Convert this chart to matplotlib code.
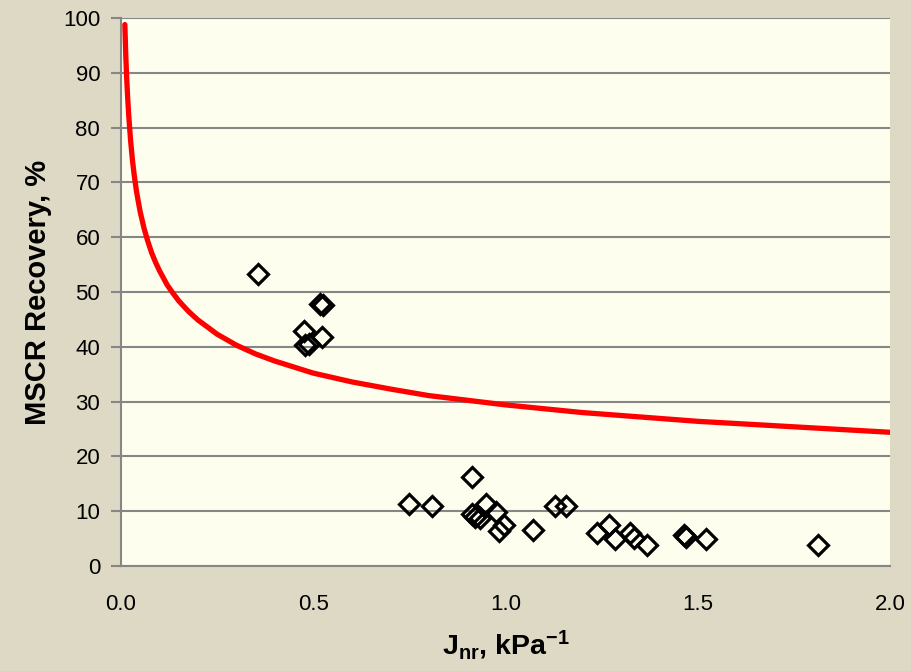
import matplotlib
matplotlib.use("Agg")
import matplotlib.pyplot as plt

plt.rcParams['font.family'] = ['Liberation Sans', 'DejaVu Sans']
plt.rcParams['mathtext.fontset'] = 'custom'
plt.rcParams['mathtext.rm'] = 'Liberation Sans'
plt.rcParams['mathtext.bf'] = 'Liberation Sans:bold'
plt.rcParams['mathtext.it'] = 'Liberation Sans:italic'

# Measured data points (Jnr, MSCR recovery %)
jnr = [0.356, 0.518, 0.525, 0.477, 0.524, 0.479, 0.490,
       0.749, 0.808, 0.914, 0.949, 0.912, 0.921, 0.934, 0.975, 0.996, 0.983,
       1.072, 1.129, 1.157, 1.237, 1.268, 1.285, 1.325, 1.334, 1.369,
       1.463, 1.470, 1.521, 1.814]
recovery = [53.2, 47.8, 47.6, 42.9, 41.8, 40.3, 40.6,
            11.3, 11.0, 16.2, 11.4, 9.5, 9.0, 8.7, 9.9, 7.5, 6.4,
            6.6, 11.0, 10.9, 6.0, 7.5, 4.9, 6.1, 5.2, 3.8,
            5.6, 5.3, 5.0, 3.8]

# Reference curve, values
curve_x = [0.01, 0.0125, 0.015, 0.0175, 0.02, 0.025, 0.03, 0.035, 0.04, 0.045,
           0.05, 0.055, 0.06, 0.07, 0.08, 0.09, 0.1, 0.11, 0.12, 0.135, 0.15,
           0.175, 0.2, 0.25, 0.3, 0.35, 0.4, 0.5, 0.6, 0.7, 0.8, 1.0, 1.2,
           1.5, 1.75, 2.0]
curve_y = [98.8, 93.0, 88.7, 85.3, 82.3, 77.6, 73.9, 71.0, 68.5, 66.5,
           64.6, 63.1, 61.6, 59.2, 57.1, 55.4, 53.9, 52.6, 51.3, 49.8, 48.4,
           46.5, 44.9, 42.3, 40.3, 38.7, 37.4, 35.2, 33.6, 32.3, 31.1, 29.4, 28.0,
           26.4, 25.4, 24.4]

x_ticks = [0.0, 0.5, 1.0, 1.5, 2.0]
x_tick_labels = ['0.0', '0.5', '1.0', '1.5', '2.0']
y_ticks = list(range(0, 101, 10))

fig = plt.figure(figsize=(9.11, 6.71), dpi=100)
fig.patch.set_facecolor('#DDD9C4')
ax = fig.add_axes([121/911, 1-566/671, (890-121)/911, (566-18)/671])
ax.set_facecolor('#FEFEEE')

ax.set_xlim(0, 2.0)
ax.set_ylim(0, 100)
ax.set_yticks(y_ticks)
ax.set_xticks(x_ticks)
ax.set_xticklabels(x_tick_labels)

ax.grid(axis='y', color='#868686', linewidth=1.5)
ax.set_axisbelow(True)

for s in ['top', 'right']:
    ax.spines[s].set_visible(False)
for s in ['left', 'bottom']:
    ax.spines[s].set_color('#868686')
    ax.spines[s].set_linewidth(1.5)

ax.tick_params(axis='y', direction='out', length=7, width=1.5, color='#868686',
               labelsize=16, pad=8, labelcolor='black')
ax.tick_params(axis='x', length=0, labelsize=16, pad=20, labelcolor='black')

ax.plot(curve_x, curve_y, color='#FF0000', linewidth=3.8, solid_capstyle='round',
        solid_joinstyle='round', zorder=3)
ax.plot(jnr, recovery, linestyle='none', marker='D', markersize=10.5,
        markerfacecolor='none', markeredgecolor='black', markeredgewidth=2.3, zorder=4)

ax.set_ylabel('MSCR Recovery, %', fontsize=21, fontweight='bold', labelpad=8)
ax.set_xlabel(r'$\mathbf{J_{nr}}$, kPa$^{\mathbf{-1}}$', fontsize=20.5, fontweight='bold', labelpad=10)

fig.savefig('out.png', dpi=100, facecolor=fig.get_facecolor())
